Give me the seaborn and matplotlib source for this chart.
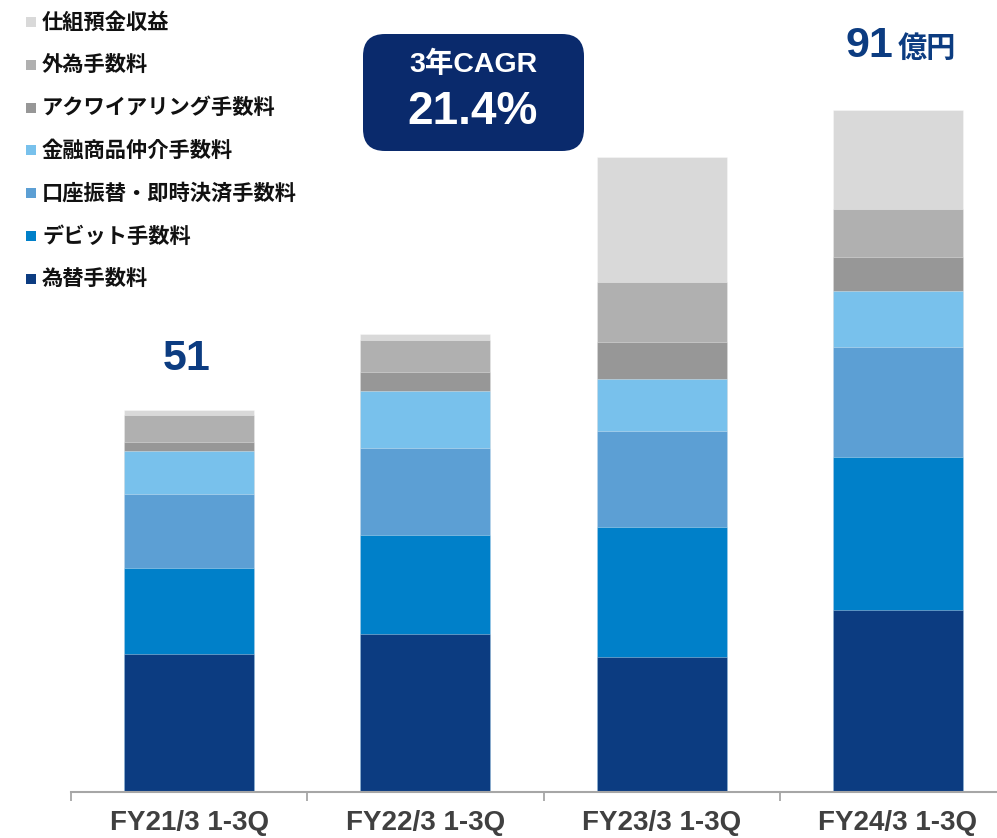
import numpy as np
import pandas as pd
import matplotlib
matplotlib.use("Agg")
import matplotlib.pyplot as plt
from matplotlib.patches import FancyBboxPatch, Rectangle
import seaborn as sns

# Fee income by category (億円), cumulative Q1-Q3 of each fiscal year
periods = ["FY21/3 1-3Q", "FY22/3 1-3Q", "FY23/3 1-3Q", "FY24/3 1-3Q"]
fx_fees = [18.3, 21.0, 18.0, 24.2]             # 為替手数料
debit_fees = [11.5, 13.2, 17.3, 20.5]          # デビット手数料
transfer_fees = [9.9, 11.6, 12.8, 14.6]        # 口座振替・即時決済手数料
brokerage_fees = [5.8, 7.7, 7.0, 7.5]          # 金融商品仲介手数料
acquiring_fees = [1.2, 2.5, 4.9, 4.5]          # アクワイアリング手数料
forex_fees = [3.6, 4.3, 8.0, 6.4]              # 外為手数料
structured_deposit = [0.6, 0.7, 16.7, 13.3]    # 仕組預金収益

# stacking order, bottom to top
series_names = ["為替手数料", "デビット手数料", "口座振替・即時決済手数料",
                "金融商品仲介手数料", "アクワイアリング手数料", "外為手数料", "仕組預金収益"]
series_values = [fx_fees, debit_fees, transfer_fees, brokerage_fees,
                 acquiring_fees, forex_fees, structured_deposit]
series_colors = ["#0C3C81", "#0080C9", "#5C9FD4", "#78C1EC",
                 "#979797", "#B0B0B0", "#D9D9D9"]

W, H, DPI = 997, 838, 100
NAVY = "#0C3C81"
LATIN = ["Liberation Sans", "Noto Sans CJK JP"]
CJK = ["Noto Sans CJK JP", "DejaVu Sans"]

sns.set_theme(style="white")
plt.rcParams["font.family"] = LATIN


def fx(px):
    return px / W


def fy(py):
    return 1 - py / H


fig = plt.figure(figsize=(W / DPI, H / DPI), dpi=DPI)
fig.patch.set_facecolor("white")

base_px, unit_px = 791.5, 7.492
ax = fig.add_axes([fx(71), fy(base_px), 945 / W, 100 * unit_px / H])

cum = np.cumsum(np.array(series_values), axis=0)
totals = cum[-1]

# draw cumulative heights from the top layer down so each lower layer covers the rest
for i in reversed(range(len(series_names))):
    df = pd.DataFrame({"period": periods, "value": cum[i]})
    sns.barplot(data=df, x="period", y="value", order=periods,
                color=series_colors[i], saturation=1, width=0.55,
                errorbar=None, edgecolor=(1, 1, 1, 0.35), linewidth=0.7, ax=ax)

ax.set_xlim(-0.5, 3.5)
ax.set_ylim(0, 100)
ax.set_xlabel("")
ax.set_ylabel("")
ax.set_yticks([])
for side in ["left", "right", "top"]:
    ax.spines[side].set_visible(False)
ax.spines["bottom"].set_color("#A6A6A6")
ax.spines["bottom"].set_linewidth(1.5)

ax.set_xticks(range(len(periods)))
ax.set_xticklabels(periods, fontsize=20, fontweight="bold", color="#404040")
ax.tick_params(axis="x", which="major", bottom=True, length=0, pad=13)
ax.set_xticks(np.arange(-0.5, len(periods), 1.0), minor=True)
ax.tick_params(axis="x", which="minor", bottom=True, length=6.5, width=1.3,
               color="#A6A6A6", direction="out")

# totals above the first and last bars
ax.annotate(f"{totals[0]:.0f}", xy=(0, totals[0]), xytext=(-1.5, 37),
            textcoords="offset points", ha="center", va="center",
            fontsize=31, fontweight="bold", color=NAVY)
ax.annotate(f"{totals[-1]:.0f}", xy=(3, totals[-1]), xytext=(-3, 38),
            textcoords="offset points", ha="right", va="baseline",
            fontsize=31, fontweight="bold", color=NAVY)
ax.annotate("億円", xy=(3, totals[-1]), xytext=(0, 38),
            textcoords="offset points", ha="left", va="baseline",
            fontsize=21, fontweight="bold", color=NAVY, family=CJK)

# CAGR badge
cagr = (totals[-1] / totals[0]) ** (1 / 3) - 1
badge = FancyBboxPatch((fx(363), fy(151)), (584 - 363) / W, (151 - 34) / H,
                       boxstyle="round,pad=0,rounding_size=0.022",
                       transform=fig.transFigure, facecolor="#0A2A6C",
                       edgecolor="none", mutation_aspect=W / H)
fig.add_artist(badge)
fig.text(fx(473), fy(64), "3年CAGR", ha="center", va="center",
         fontsize=20.5, fontweight="bold", color="white")
fig.text(fx(473), fy(112), f"{cagr * 100:.1f}%", ha="center", va="center",
         fontsize=33, fontweight="bold", color="white")

# legend, top entry = top of stack
row0, row_gap = 22, 42.8
for k, i in enumerate(reversed(range(len(series_names)))):
    yc = row0 + k * row_gap
    fig.add_artist(Rectangle((fx(26), fy(yc + 5)), 10 / W, 10 / H,
                             transform=fig.transFigure,
                             facecolor=series_colors[i], edgecolor="none"))
    fig.text(fx(42), fy(yc), series_names[i], ha="left", va="center",
             fontsize=15.3, fontweight="bold", color="#111111", family=CJK)

fig.savefig("out.png", dpi=DPI, facecolor="white")
